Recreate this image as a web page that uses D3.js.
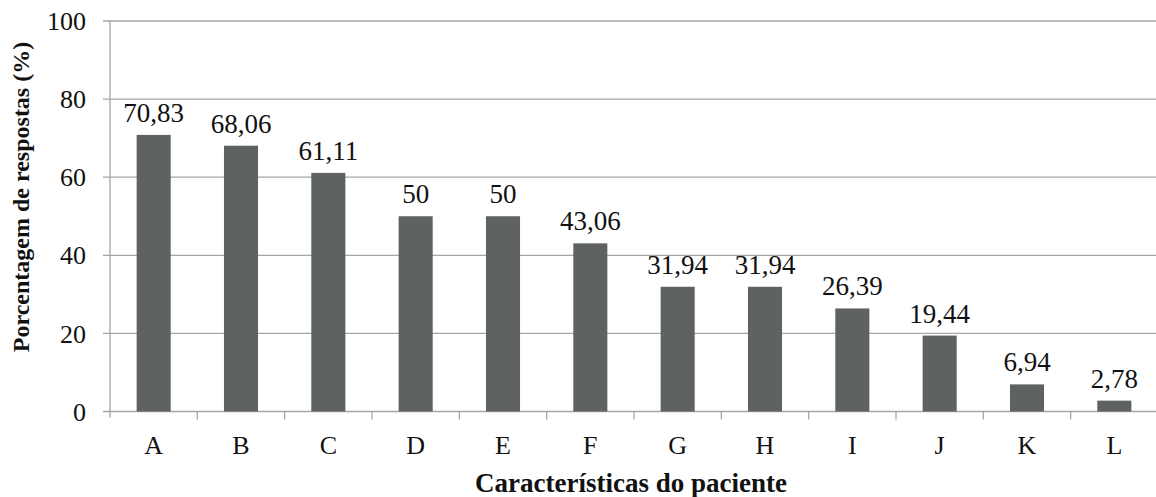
<!DOCTYPE html>
<html><head><meta charset="utf-8">
<script src="https://cdn.jsdelivr.net/npm/d3@7"></script>
<style>body{margin:0;background:#fff}svg{display:block}
svg text{font-family:"Liberation Serif","Tinos","Times New Roman","Nimbus Roman","DejaVu Serif",serif}</style>
</head><body>
<script>
const categories = ["A","B","C","D","E","F","G","H","I","J","K","L"];
const values = [70.83,68.06,61.11,50,50,43.06,31.94,31.94,26.39,19.44,6.94,2.78];
const valueLabels = ["70,83","68,06","61,11","50","50","43,06","31,94","31,94","26,39","19,44","6,94","2,78"];
const yTicks = [0,20,40,60,80,100];
const xTitle = "Características do paciente";
const yTitle = "Porcentagem de respostas (%)";

const W = 1156, H = 497;
const svg = d3.select("body").append("svg").attr("width", W).attr("height", H);

const x = d3.scaleBand().domain(categories).range([110, 1158]).paddingInner(0.61).paddingOuter(0.305);
const xb = d3.scaleBand().domain(categories).range([110, 1158]);
const y = d3.scaleLinear().domain([0, 100]).range([411.5, 21]);

svg.append("g").selectAll("line").data(yTicks).join("line")
  .attr("x1", 103).attr("x2", W).attr("y1", d => y(d)).attr("y2", d => y(d))
  .attr("stroke", "#a6a6a6").attr("stroke-width", 1.3);

svg.append("line").attr("x1", 110).attr("x2", 110).attr("y1", y(100)).attr("y2", y(0) + 6)
  .attr("stroke", "#a6a6a6").attr("stroke-width", 1.3);

svg.append("g").selectAll("line").data(categories.slice(1)).join("line")
  .attr("x1", d => xb(d)).attr("x2", d => xb(d)).attr("y1", y(0)).attr("y2", y(0) + 8)
  .attr("stroke", "#a6a6a6").attr("stroke-width", 1.3);

svg.append("g").selectAll("text").data(yTicks).join("text")
  .attr("x", 86).attr("y", d => y(d)).attr("dy", "0.35em")
  .attr("text-anchor", "end").attr("font-size", 26)
  .attr("fill", "#111").text(d => d);

svg.append("g").selectAll("rect").data(values).join("rect")
  .attr("x", (d, i) => x(categories[i])).attr("width", x.bandwidth())
  .attr("y", d => y(d)).attr("height", d => y(0) - y(d))
  .attr("fill", "#5e6262");

svg.append("g").selectAll("text").data(values).join("text")
  .attr("x", (d, i) => x(categories[i]) + x.bandwidth() / 2)
  .attr("y", d => y(d) - 13)
  .attr("text-anchor", "middle").attr("font-size", 27)
  .attr("fill", "#111").text((d, i) => valueLabels[i]);

svg.append("g").selectAll("text").data(categories).join("text")
  .attr("x", d => xb(d) + xb.bandwidth() / 2).attr("y", 454)
  .attr("text-anchor", "middle").attr("font-size", 26)
  .attr("fill", "#111").text(d => d);

svg.append("text").attr("x", 631).attr("y", 492).attr("text-anchor", "middle")
  .attr("font-size", 27).attr("font-weight", "bold")
  .attr("fill", "#111").text(xTitle);

svg.append("text").attr("transform", "translate(29,197) rotate(-90)").attr("text-anchor", "middle")
  .attr("font-size", 24).attr("font-weight", "bold")
  .attr("fill", "#111").text(yTitle);
</script>
</body></html>
